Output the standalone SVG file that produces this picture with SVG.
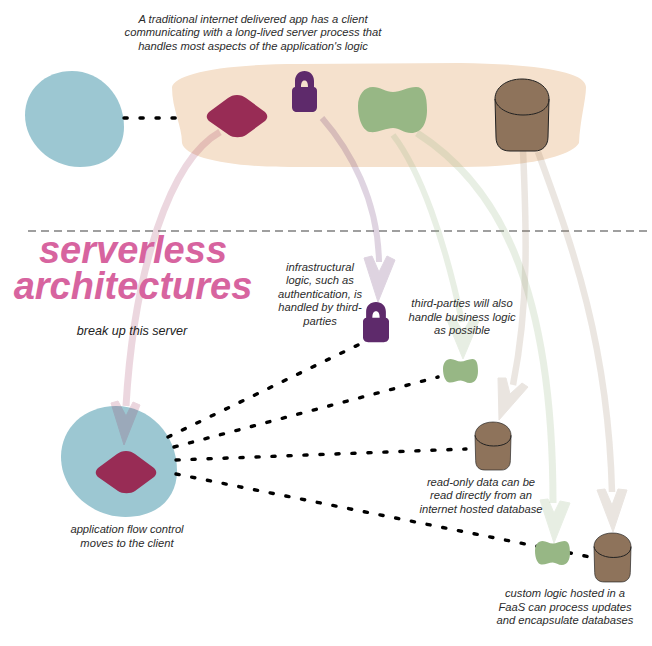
<svg xmlns="http://www.w3.org/2000/svg" width="652" height="646" viewBox="0 0 652 646">
<style>
.client{fill:#9cc7d2}
.server{fill:#f5e1cd}
.flow{fill:#982c55}
.lock{fill:#5e2a6b;fill-rule:evenodd}
.logic{fill:#97b785}
.db{fill:#8e735b;stroke:#222;stroke-width:1;vector-effect:non-scaling-stroke}
.rim{fill:none;stroke:#222;stroke-width:1;vector-effect:non-scaling-stroke}
.dots{fill:none;stroke:#000;stroke-width:3.4;stroke-linecap:round;stroke-dasharray:3.2 12.8}
.divider{fill:none;stroke:#808080;stroke-width:1.3;stroke-dasharray:8 5}
.stem{fill:none!important;stroke-width:7}
.head{stroke:none}
.p{stroke:#982c55;fill:#982c55;opacity:.19}
.u{stroke:#5e2a6b;fill:#5e2a6b;opacity:.2}
.g{stroke:#97b785;fill:#97b785;opacity:.22}
.b{stroke:#8e735b;fill:#8e735b;opacity:.18}
text{font-family:"Liberation Sans",Arial,sans-serif;font-style:italic;font-size:11.2px;fill:#2b2b2b;text-anchor:middle}
.lead{font-size:12.6px;fill:#222}
.title{font-size:38px;font-weight:bold;fill:#d7649f}
</style>
<defs>
<path id="blob" d="M47 0C75 0 99 24 99 56C99 79 83 96 55 96C25 96 0 72 0 44C0 19 20 0 47 0Z"/>
<path id="diamond" d="M31 0C35 0 37 1 40 3L59 17C62 20 62 23 59 26L40 40C36 43 27 43 23 40L3 26C0 23 0 20 3 17L22 3C25 1 27 0 31 0Z"/>
<path id="padlock" d="M12.500 0C18 0 22 4 22 10L22 16C24 16.500 25 18 25 20L25 36C25 39 23 41 20 41L5 41C2 41 0 39 0 36L0 20C0 18 1 16.500 3 16L3 10C3 4 7 0 12.500 0ZM12.500 9.500C10 9.500 9 12 9 16L16 16C16 12 15 9.500 12.500 9.500Z"/>
<path id="bone" d="M15 0C22 0 28 5 35 5C42 5 50 0 58 0C66 0 69 8 69 23C69 36 64 46 53 46C46 46 41 41 35 41C28 41 20 46 12 45C5 44 0 32 0 19C0 8 6 0 15 0Z"/>
<g id="cyl">
<path d="M0 20C0 8 12 0 27 0C42 0 54 8 54 20L53 58C53 67 47 72 40 72L15 72C6 72 1 67 1 58Z"/>
<path class="rim" d="M0 20C1 28 12 36 28 36C44 36 54 30 54 20"/>
</g>
</defs>
<rect width="652" height="646" fill="#fff"/>
<g id="client-top"><use href="#blob" class="client" transform="translate(25 71)"/></g>
<g id="client-bottom"><use href="#blob" class="client" transform="translate(61 406) scale(1.172 1.156)"/></g>
<g id="server"><path class="server" d="M172 87C175 75 215 64 300 64L460 63C540 64 586 72 586 87C586 100 580 120 579 143C570 158 520 167 463 167L290 167C230 167 185 158 182 143C182 125 172 110 172 87Z"/></g>
<g id="connectors">
<path class="divider" d="M28 231H648"/>
<path class="dots" d="M124 118L178 118"/>
<path class="dots" d="M168 437L358 345"/>
<path class="dots" d="M174 447L438 377"/>
<path class="dots" d="M176 460L466 449"/>
<path class="dots" d="M176 474L590 557"/>
<path class="stem p" d="M220 132C170 160 134 270 126 406"/>
<polygon class="head p" points="111,403 118,401 126,416 133,402 140,405 124,445"/>
<path class="stem u" style="stroke-width:6" d="M322 118C350 150 378 200 379 262"/>
<polygon class="head u" points="364,258 372,256 379,272 387,256 395,260 378,302"/>
<path class="stem g" style="stroke-width:6" d="M393 135C420 170 445 240 462 322"/>
<polygon class="head g" points="447,320 455,318 463,332 471,318 479,321 463,359"/>
<path class="stem g" d="M417 133C490 180 553 270 553 503"/>
<polygon class="head g" points="540,500 548,499 554,513 560,501 570,503 554,543"/>
<path class="stem b" style="stroke-width:6.500" d="M523 150C526 220 530 300 513 385"/>
<polygon class="head b" points="498,378 506,378 510,394 522,383 528,387 499,420"/>
<path class="stem b" style="stroke-width:6.500" d="M538 152C570 240 608 340 612 492"/>
<polygon class="head b" points="597,490 605,489 612,505 618,489 627,490 613,532"/>
</g>
<g id="flow-top"><use href="#diamond" class="flow" transform="translate(206 95)"/></g>
<g id="lock-top"><use href="#padlock" class="lock" transform="translate(292 71)"/></g>
<g id="logic-top"><use href="#bone" class="logic" transform="translate(358 87)"/></g>
<g id="db-top"><use href="#cyl" class="db" transform="translate(495 79)"/></g>
<g id="flow-bottom"><use href="#diamond" class="flow" transform="translate(95 451)"/></g>
<g id="lock-bottom"><use href="#padlock" class="lock" transform="translate(363 302) scale(1.04 .98)"/></g>
<g id="logic-third-party"><use href="#bone" class="logic" transform="translate(443 359) scale(.507 .522)"/></g>
<g id="db-read"><use href="#cyl" class="db" transform="translate(475 422) scale(.667 .667)"/></g>
<g id="logic-faas"><use href="#bone" class="logic" transform="translate(535 541) scale(.507 .522)"/></g>
<g id="db-faas"><use href="#cyl" class="db" transform="translate(594 533) scale(.685 .68)"/></g>
<g id="labels">
<text x="253" y="22.500">A traditional internet delivered app has a client</text>
<text x="253" y="36">communicating with a long-lived server process that</text>
<text x="253" y="49.500">handles most aspects of the application's logic</text>
<text class="title" x="133" y="263">serverless</text>
<text class="title" x="133" y="299">architectures</text>
<text class="lead" x="132" y="335">break up this server</text>
<text x="320" y="270.500">infrastructural</text>
<text x="320" y="284">logic, such as</text>
<text x="320" y="297.500">authentication, is</text>
<text x="320" y="311">handled by third-</text>
<text x="320" y="324.500">parties</text>
<text x="462" y="307">third-parties will also</text>
<text x="462" y="320.500">handle business logic</text>
<text x="462" y="334">as possible</text>
<text x="127" y="533">application flow control</text>
<text x="127" y="546.500">moves to the client</text>
<text x="481" y="485.500">read-only data can be</text>
<text x="481" y="499">read directly from an</text>
<text x="481" y="512.500">internet hosted database</text>
<text x="565" y="597">custom logic hosted in a</text>
<text x="565" y="610.500">FaaS can process updates</text>
<text x="565" y="624">and encapsulate databases</text>
</g>
</svg>
